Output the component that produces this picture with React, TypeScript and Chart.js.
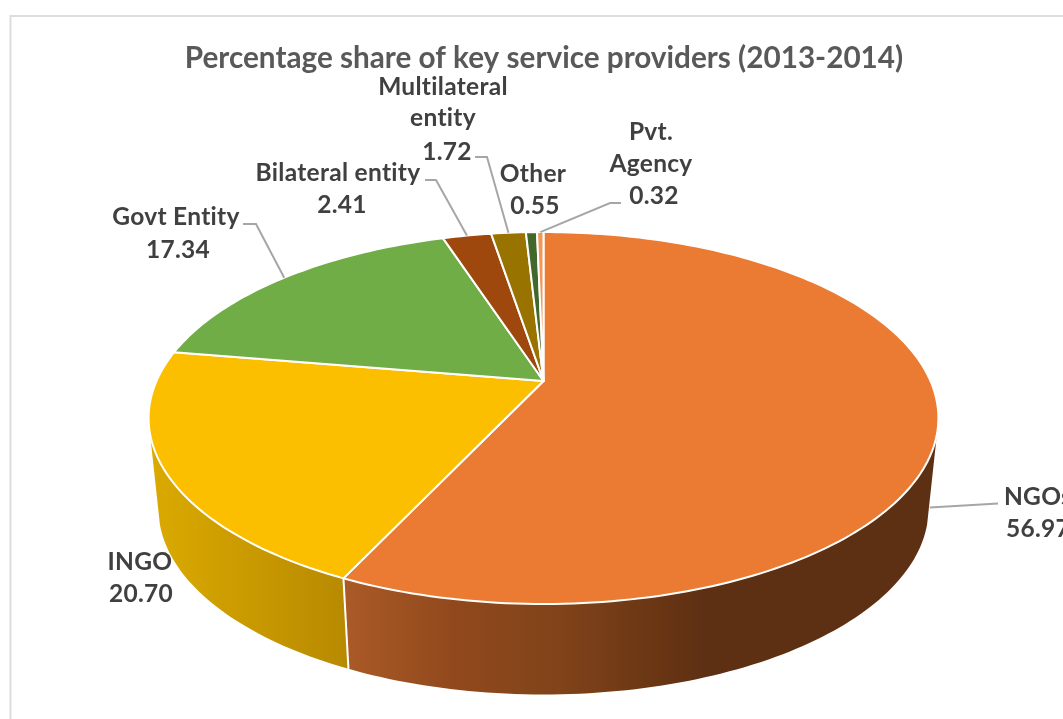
import React, { useEffect, useRef } from "react";
import Chart from "chart.js/auto";

// Provider shares, in percent, for 2013-2014
const providers = ["NGOs", "INGO", "Govt Entity", "Bilateral entity", "Multilateral entity", "Other", "Pvt. Agency"];
const shares = [56.97, 20.7, 17.34, 2.41, 1.72, 0.55, 0.32];
const sliceColors = ["#EB7B32", "#FBBF00", "#70AD47", "#9E480E", "#997300", "#43682B", "#F1975A"];
const chartTitle = "Percentage share of key service providers (2013-2014)";

// Label wrapping and callout layout: text centre, value nudge, line rows, and the elbow points of each leader
type Callout = { lines: string[]; cx: number; valueDx: number; rows: number[]; leader: number[][]; drop?: number };
const callouts: Callout[] = [
  { lines: ["NGOs"], cx: 1038, valueDx: 0, rows: [497, 529], leader: [[998, 503.5]], drop: 86 },
  { lines: ["INGO"], cx: 140, valueDx: 1, rows: [562, 594], leader: [] },
  { lines: ["Govt Entity"], cx: 176, valueDx: 2, rows: [217, 250], leader: [[243, 224], [256, 224]] },
  { lines: ["Bilateral entity"], cx: 338, valueDx: 4, rows: [173, 205], leader: [[425, 180], [436, 180]] },
  { lines: ["Multilateral", "entity"], cx: 443, valueDx: 4, rows: [87, 118, 152], leader: [[475, 157], [487, 157]] },
  { lines: ["Other"], cx: 533, valueDx: 2, rows: [174, 206], leader: [] },
  { lines: ["Pvt.", "Agency"], cx: 651, valueDx: 3, rows: [132, 164, 196], leader: [[621, 203], [610, 203]] },
];

// Perspective of the tilted disc: hub position, radii, foreshortening and thickness
const HUB_X = 543.5;
const HUB_Y = 381;
const RADIUS_X = 387;
const RADIUS_Y = 178.6;
const TILT = 0.199;
const DEPTH = 90.5;
const BASE_SCALE = 0.975;
const FRONT_LIMIT = Math.asin(0.28);

const rim = (angle: number) => {
  const u = Math.cos(angle);
  const v = Math.sin(angle);
  const w = 1 - TILT * v;
  return { x: HUB_X + (RADIUS_X * u) / w, y: HUB_Y + (RADIUS_Y * v) / w };
};
const base = (angle: number) => {
  const p = rim(angle);
  return { x: HUB_X + (p.x - HUB_X) * BASE_SCALE, y: p.y + DEPTH };
};
const sweep = (from: number, to: number) => {
  const steps = Math.max(2, Math.ceil(Math.abs(to - from) / 0.02));
  const out: number[] = [];
  for (let i = 0; i <= steps; i++) out.push(from + ((to - from) * i) / steps);
  return out;
};

const sideFill = (ctx: CanvasRenderingContext2D, index: number) => {
  const g = ctx.createLinearGradient(150, 0, 720, 0);
  if (index === 0) {
    g.addColorStop(0.34, "#AB5A27");
    g.addColorStop(0.53, "#91491C");
    g.addColorStop(0.72, "#80431A");
    g.addColorStop(0.9, "#683513");
    g.addColorStop(0.97, "#5E3013");
    g.addColorStop(1, "#5E3013");
  } else {
    g.addColorStop(0, "#DBAA00");
    g.addColorStop(0.34, "#B88A00");
    g.addColorStop(1, "#B88A00");
  }
  return g;
};

const pie3d = {
  id: "pie3d",
  beforeDraw(chart: any) {
    // Sheet outline along the top and left edges
    const { ctx } = chart;
    ctx.save();
    ctx.strokeStyle = "#DDDDDD";
    ctx.lineWidth = 2;
    ctx.beginPath();
    ctx.moveTo(10.5, 719);
    ctx.lineTo(10.5, 16);
    ctx.lineTo(1063, 16);
    ctx.stroke();
    ctx.restore();
  },
  beforeDatasetDraw(chart: any) {
    const { ctx } = chart;
    const arcs = chart.getDatasetMeta(0).data;
    ctx.save();
    ctx.lineJoin = "round";

    // Visible wall below the front of the disc
    arcs.forEach((arc: any, i: number) => {
      const from = Math.max(arc.startAngle, FRONT_LIMIT);
      const to = Math.min(arc.endAngle, Math.PI - FRONT_LIMIT);
      if (to <= from) return;
      const angles = sweep(from, to);
      ctx.beginPath();
      angles.forEach((a, n) => {
        const p = rim(a);
        if (n) ctx.lineTo(p.x, p.y);
        else ctx.moveTo(p.x, p.y);
      });
      angles.reverse().forEach((a) => {
        const p = base(a);
        ctx.lineTo(p.x, p.y);
      });
      ctx.closePath();
      ctx.fillStyle = sideFill(ctx, i);
      ctx.fill();
    });
    arcs.forEach((arc: any) => {
      if (arc.startAngle <= FRONT_LIMIT || arc.startAngle >= Math.PI - FRONT_LIMIT) return;
      const a = rim(arc.startAngle);
      const b = base(arc.startAngle);
      ctx.beginPath();
      ctx.moveTo(a.x, a.y);
      ctx.lineTo(b.x, b.y);
      ctx.strokeStyle = "#FFFFFF";
      ctx.lineWidth = 2;
      ctx.stroke();
    });

    // Top face, one wedge per data element
    arcs.forEach((arc: any, i: number) => {
      ctx.beginPath();
      ctx.moveTo(HUB_X, HUB_Y);
      sweep(arc.startAngle, arc.endAngle).forEach((a) => {
        const p = rim(a);
        ctx.lineTo(p.x, p.y);
      });
      ctx.closePath();
      ctx.fillStyle = sliceColors[i];
      ctx.fill();
      ctx.strokeStyle = "#FFFFFF";
      ctx.lineWidth = 2;
      ctx.stroke();
    });
    ctx.restore();
    return false;
  },
  afterDatasetsDraw(chart: any) {
    const { ctx } = chart;
    const arcs = chart.getDatasetMeta(0).data;
    ctx.save();
    callouts.forEach((c, i) => {
      if (c.leader.length) {
        const mid = (arcs[i].startAngle + arcs[i].endAngle) / 2;
        const end = rim(mid);
        ctx.beginPath();
        c.leader.forEach(([x, y], n) => (n ? ctx.lineTo(x, y) : ctx.moveTo(x, y)));
        ctx.lineTo(end.x - (c.drop ? 8.5 : 0), end.y + (c.drop ?? 0));
        ctx.strokeStyle = "#A6A6A6";
        ctx.lineWidth = 2;
        ctx.stroke();
      }
      ctx.fillStyle = "#404040";
      ctx.font = "bold 24.5px Lato";
      (ctx as any).letterSpacing = "0.3px";
      ctx.textAlign = "center";
      ctx.textBaseline = "middle";
      c.lines.forEach((line, n) => ctx.fillText(line, c.cx, c.rows[n]));
      ctx.fillText(shares[i].toFixed(2), c.cx + c.valueDx, c.rows[c.lines.length]);
    });
    ctx.restore();
  },
};

export default function App() {
  const ref = useRef<HTMLCanvasElement | null>(null);
  useEffect(() => {
    if (!ref.current) return;
    const chart = new Chart(ref.current, {
      type: "pie",
      data: {
        labels: providers,
        datasets: [{ data: shares, backgroundColor: sliceColors, borderColor: "#FFFFFF", borderWidth: 2 }],
      },
      options: {
        responsive: false,
        animation: false,
        layout: { padding: { left: 25 } },
        plugins: {
          legend: { display: false },
          tooltip: { enabled: false },
          title: {
            display: true,
            text: chartTitle,
            color: "#595959",
            font: { family: "Lato", size: 29.7, weight: "bold" },
            padding: { top: 41, bottom: 10 },
          },
        },
      },
      plugins: [pie3d],
    } as any);
    return () => chart.destroy();
  }, []);
  return (
    <canvas
      ref={ref}
      width={1063}
      height={719}
      style={{ position: "fixed", left: 0, top: 0, display: "block", background: "#FFFFFF" }}
    />
  );
}
